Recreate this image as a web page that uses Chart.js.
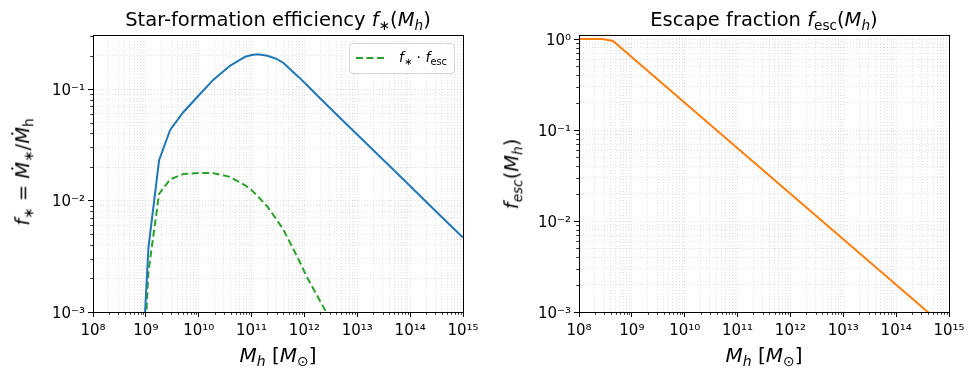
<!DOCTYPE html>
<html><head><meta charset="utf-8">
<script src="https://cdn.jsdelivr.net/npm/chart.js@4.4.0/dist/chart.umd.min.js"></script>
<style>
body{margin:0;background:#fff;width:978px;height:378px;overflow:hidden;position:relative;font-family:'DejaVu Sans',sans-serif;color:#000;}
canvas{position:absolute;top:0;}
.t{position:absolute;white-space:nowrap;transform:translateX(-50%);}
.title{font-size:19.5px;line-height:19.5px;top:10px;}
.xl{font-size:20px;line-height:20px;top:345px;}
.yl{position:absolute;white-space:nowrap;font-size:19.5px;line-height:19.5px;transform:translate(-50%,-50%) rotate(-90deg);}
.s{font-size:70%;position:relative;top:0.3em;}
i{font-style:italic;}
.leg{position:absolute;left:349px;top:43px;width:104px;height:29px;border:1px solid #d4d4d4;border-radius:4px;background:rgba(255,255,255,0.85);}
.leg svg{position:absolute;left:5px;top:10px;}
.leg .lt{position:absolute;left:49px;top:6px;font-size:14px;line-height:14px;white-space:nowrap;}
</style></head><body>
<canvas id="c1" width="489" height="378" style="left:0"></canvas>
<canvas id="c2" width="489" height="378" style="left:489px"></canvas>

<div class="t title" style="left:278px">Star-formation efficiency <i>f</i><span class="s">∗</span>(<i>M</i><span class="s"><i>h</i></span>)</div>
<div class="t title" style="left:764px">Escape fraction <i>f</i><span class="s">esc</span>(<i>M</i><span class="s"><i>h</i></span>)</div>
<div class="t xl" style="left:278px"><i>M</i><span class="s"><i>h</i></span> [<i>M</i><span class="s">⊙</span>]</div>
<div class="t xl" style="left:764px"><i>M</i><span class="s"><i>h</i></span> [<i>M</i><span class="s">⊙</span>]</div>
<div class="yl" style="left:24px;top:172px"><i>f</i><span class="s">∗</span> = <i>Ṁ</i><span class="s">∗</span>/<i>Ṁ</i><span class="s">h</span></div>
<div class="yl" style="left:513px;top:174px"><i>f</i><span class="s"><i>esc</i></span>(<i>M</i><span class="s"><i>h</i></span>)</div>
<div class="leg"><svg width="32" height="8"><line x1="1" y1="4" x2="31" y2="4" stroke="#2ca02c" stroke-width="2" stroke-dasharray="7,3.5"/></svg><div class="lt"><i>f</i><span class="s">∗</span> · <i>f</i><span class="s">esc</span></div></div>

<script>
// ---- data ----
const haloMass = [8.7e8, 1.12e9, 1.78e9, 2.88e9, 5.1e9, 1.05e10, 1.9e10, 3.9e10, 7.6e10, 1.0e11, 1.32e11, 2.0e11, 2.82e11, 3.98e11, 5.62e11, 7.94e11, 1.12e12, 2.63e12, 8.3e12, 3.16e13, 1e14, 3.16e14, 1e15];
const fStar = [3.9e-4, 0.0038, 0.023, 0.043, 0.062, 0.090, 0.1216, 0.162, 0.1954, 0.2023, 0.2056, 0.1995, 0.1884, 0.1726, 0.1479, 0.1274, 0.1084, 0.0724, 0.0426, 0.0230, 0.0135, 0.0079, 0.00466];
const fStarEsc = [2.3e-4, 0.0023, 0.0115, 0.0155, 0.0173, 0.0177, 0.0176, 0.0163, 0.0137, 0.0124, 0.0109, 0.0088, 0.0070, 0.0055, 0.0040, 0.0029, 0.00205, 0.00098, 0.00029, null, null, null, null];
const escMass = [1e8, 2.8e8, 4.4e8, 1e10, 1e12, 1e14, 1e15];
const fEsc = [1.0, 1.0, 0.95, 0.199, 0.0199, 0.00199, 6.3e-4];
const xTickExps = [8, 9, 10, 11, 12, 13, 14, 15];
const yTickExpsLeft = [-3, -2, -1];
const yTickExpsRight = [-3, -2, -1, 0];

const SUP = {'-':'⁻','0':'⁰','1':'¹','2':'²','3':'³','4':'⁴','5':'⁵','6':'⁶','7':'⁷','8':'⁸','9':'⁹'};
function powLabel(e){ return '10' + String(e).split('').map(c => SUP[c]).join(''); }
function logTicks(min, max){
  const out = [];
  const e0 = Math.floor(Math.log10(min)) - 1, e1 = Math.ceil(Math.log10(max));
  for (let e = e0; e <= e1; e++) for (let s = 1; s <= 9; s++) {
    const v = parseFloat((s * Math.pow(10, e)).toPrecision(6));
    if (v >= min * (1 - 1e-9) && v <= max * (1 + 1e-9)) out.push({value: v, major: s === 1});
  }
  return out;
}
function isMajorVal(v){ const e = Math.log10(v); return Math.abs(e - Math.round(e)) < 1e-6; }

const framePlugin = {
  id: 'frame',
  afterDraw(chart){
    const {ctx, chartArea: a} = chart;
    ctx.save();
    ctx.strokeStyle = '#000';
    ctx.lineWidth = 0.8;
    for (const id of ['x', 'y']) {
      const sc = chart.scales[id];
      for (const t of sc.ticks) {
        if (isMajorVal(t.value)) continue;
        const p = Math.round(sc.getPixelForValue(t.value)) + 0.5;
        ctx.beginPath();
        if (id === 'x') { ctx.moveTo(p, a.bottom); ctx.lineTo(p, a.bottom + 2.8); }
        else { ctx.moveTo(a.left, p); ctx.lineTo(a.left - 2.8, p); }
        ctx.stroke();
      }
    }
    ctx.lineWidth = 1;
    ctx.strokeRect(Math.round(a.left) + 0.5, Math.round(a.top) + 0.5, Math.round(a.right - a.left), Math.round(a.bottom - a.top));
    ctx.restore();
  }
};

function axisCommon(exps, isX){
  return {
    type: 'logarithmic',
    afterBuildTicks: sc => { sc.ticks = logTicks(sc.min, sc.max); },
    ticks: {
      autoSkip: false, maxRotation: 0, minRotation: 0, padding: isX ? 5 : 3, labelOffset: isX ? 0 : 2, color: '#000',
      font: {family: 'DejaVu Sans', size: 15},
      callback: v => { if (!isMajorVal(v)) return ''; const e = Math.round(Math.log10(v)); return exps.includes(e) ? powLabel(e) : ''; }
    },
    grid: {
      color: 'rgba(185,185,185,0.55)', lineWidth: 0.8, drawTicks: true, tickLength: 5,
      tickColor: c => (c.tick && isMajorVal(c.tick.value)) ? '#000' : 'rgba(0,0,0,0)', tickWidth: 1
    },
    border: {display: true, color: '#000', width: 1, dash: [1, 2]}
  };
}

function makeChart(id, datasets, yMin, yMax, yExps, padRight, yWidth){
  const x = axisCommon(xTickExps, true);
  x.min = 1e8; x.max = 1e15; x.afterFit = sc => { sc.height = 66; };
  const y = axisCommon(yExps, false);
  y.min = yMin; y.max = yMax; y.afterFit = sc => { sc.width = yWidth; };
  return new Chart(document.getElementById(id), {
    type: 'line',
    data: {datasets},
    options: {
      responsive: false, animation: false, devicePixelRatio: 1,
      layout: {padding: {left: 0, right: padRight, top: 35, bottom: 0}},
      plugins: {legend: {display: false}, title: {display: false}, tooltip: {enabled: false}},
      elements: {point: {radius: 0}, line: {tension: 0}},
      scales: {x, y}
    },
    plugins: [framePlugin]
  });
}

makeChart('c1', [
  {label: 'f*', data: haloMass.map((m, i) => ({x: m, y: fStar[i]})), borderColor: '#1f77b4', borderWidth: 2, fill: false},
  {label: 'f*·fesc', data: haloMass.map((m, i) => ({x: m, y: fStarEsc[i]})), borderColor: '#2ca02c', borderWidth: 2, borderDash: [7, 3.5], fill: false}
], 1e-3, 0.306, yTickExpsLeft, 26, 93);

makeChart('c2', [
  {label: 'fesc', data: escMass.map((m, i) => ({x: m, y: fEsc[i]})), borderColor: '#ff7f0e', borderWidth: 2, fill: false}
], 1e-3, 1.107, yTickExpsRight, 29, 90);
</script>
</body></html>
